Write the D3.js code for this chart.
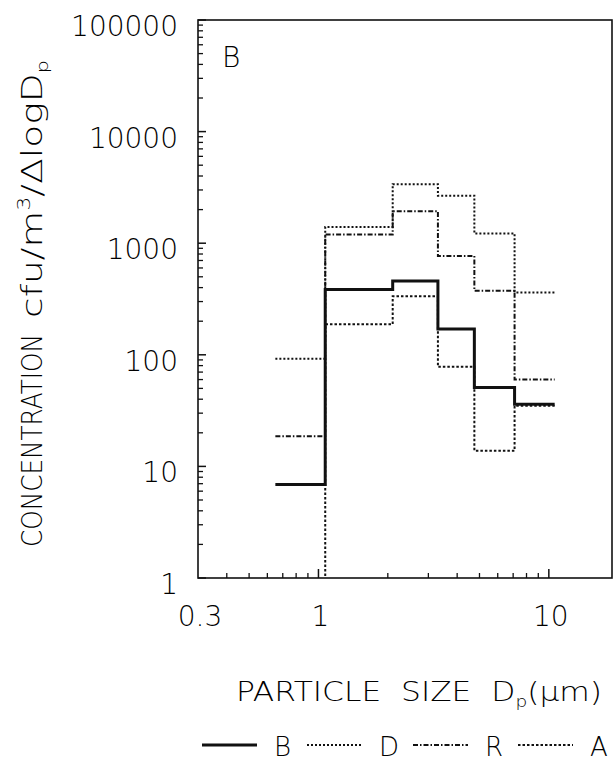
<!DOCTYPE html>
<html>
<head>
<meta charset="utf-8">
<script src="https://cdn.jsdelivr.net/npm/d3@7"></script>
<style>
  body { margin: 0; background: #fff; }
  text, tspan { font-family: "DejaVu Sans", sans-serif; font-weight: 200; fill: #000; white-space: pre; }
</style>
</head>
<body>
<div id="vis-container"></div>
<script>
// --- Data ---
const binEdges = [0.65, 1.07, 2.1, 3.3, 4.75, 7.1, 10.6];   // stage cut sizes, um
const seriesNames = ["B", "D", "R", "A"];
const valuesB = [6.9, 384, 459, 170, 51, 36];
const valuesD = [92, 1397, 3380, 2667, 1222, 362];
const valuesR = [18.6, 1195, 1936, 768, 375, 60];
const valuesA = [0.5, 188, 335, 78, 13.8, 35];             // first stage below 1
const yTicks = [1, 10, 100, 1000, 10000, 100000];
const xTickLabels = [0.3, 1, 10];

const styles = {
    B: { width: 3, dash: null },
    D: { width: 2, dash: "2,2" },
    R: { width: 2, dash: "5,2,1.5,2" },
    A: { width: 2, dash: "2.5,2" }
};

// --- Setup ---
const W = 614, H = 770;
const svg = d3.select("#vis-container").append("svg")
    .attr("width", W).attr("height", H);

const x = d3.scaleLog().domain([0.3, 18.8]).range([198, 612]);
const y = d3.scaleLog().domain([1, 100000]).range([578, 20]);

svg.append("clipPath").attr("id", "plot-clip")
  .append("rect")
    .attr("x", x.range()[0]).attr("y", y.range()[1])
    .attr("width", x.range()[1] - x.range()[0])
    .attr("height", y.range()[0] - y.range()[1]);

// frame
svg.append("rect")
    .attr("x", x.range()[0]).attr("y", y.range()[1])
    .attr("width", x.range()[1] - x.range()[0])
    .attr("height", y.range()[0] - y.range()[1])
    .attr("fill", "none").attr("stroke", "#111").attr("stroke-width", 1.6);

// y ticks: inward, minor at 2..9 per decade
const yMinor = [];
for (let p = 0; p < 5; p++) for (let k = 2; k <= 9; k++) yMinor.push(k * Math.pow(10, p));

const yAxis = svg.append("g").attr("class", "y-axis");
yAxis.selectAll(".minor").data(yMinor).enter().append("line")
    .attr("x1", x.range()[0]).attr("x2", x.range()[0] + 5)
    .attr("y1", d => y(d)).attr("y2", d => y(d))
    .attr("stroke", "#111").attr("stroke-width", 1.3);
yAxis.selectAll(".major").data(yTicks).enter().append("line")
    .attr("x1", x.range()[0]).attr("x2", x.range()[0] + 8)
    .attr("y1", d => y(d)).attr("y2", d => y(d))
    .attr("stroke", "#111").attr("stroke-width", 1.5);
yAxis.selectAll("text").data(yTicks).enter().append("text")
    .attr("x", x.range()[0] - 20)
    .attr("y", d => y(d) + 16)
    .attr("text-anchor", "end")
    .attr("font-size", 28)
    .text(d => d);

// x ticks: inward, minor at 0.4..0.9 and 2..9
const xMinor = [0.4, 0.5, 0.6, 0.7, 0.8, 0.9, 2, 3, 4, 5, 6, 7, 8, 9];
const xAxis = svg.append("g").attr("class", "x-axis");
xAxis.selectAll(".minor").data(xMinor).enter().append("line")
    .attr("x1", d => x(d)).attr("x2", d => x(d))
    .attr("y1", y.range()[0]).attr("y2", y.range()[0] - 5)
    .attr("stroke", "#111").attr("stroke-width", 1.3);
xAxis.selectAll(".major").data([1, 10]).enter().append("line")
    .attr("x1", d => x(d)).attr("x2", d => x(d))
    .attr("y1", y.range()[0]).attr("y2", y.range()[0] - 9)
    .attr("stroke", "#111").attr("stroke-width", 1.5);
xAxis.selectAll("text").data(xTickLabels).enter().append("text")
    .attr("x", d => x(d) + 2)
    .attr("y", 626)
    .attr("text-anchor", "middle")
    .attr("font-size", 28)
    .text(d => d);

// --- Step lines ---
const allSeries = [
    { name: "B", values: valuesB },
    { name: "D", values: valuesD },
    { name: "R", values: valuesR },
    { name: "A", values: valuesA }
];

const line = d3.line().x(d => x(d.x)).y(d => y(d.y));

const steps = vals => vals.flatMap((v, i) => [
    { x: binEdges[i], y: v },
    { x: binEdges[i + 1], y: v }
]);

svg.append("g").attr("clip-path", "url(#plot-clip)")
    .selectAll("path")
    .data(allSeries.slice().reverse())
    .enter().append("path")
        .attr("d", d => line(steps(d.values)))
        .attr("fill", "none")
        .attr("stroke", "#111")
        .attr("stroke-width", d => styles[d.name].width)
        .attr("stroke-dasharray", d => styles[d.name].dash);

// panel letter
svg.append("text")
    .attr("x", 222).attr("y", 67)
    .attr("font-size", 28)
    .text("B");

// --- Axis titles ---
svg.append("text")
    .attr("transform", "translate(42, 547) rotate(-90)")
    .attr("font-size", 28)
    .attr("textLength", 213)
    .attr("lengthAdjust", "spacingAndGlyphs")
    .text("CONCENTRATION");

const yUnit = svg.append("text")
    .attr("transform", "translate(42, 318) rotate(-90)")
    .attr("font-size", 29)
    .attr("textLength", 258)
    .attr("lengthAdjust", "spacingAndGlyphs");
yUnit.append("tspan").text("cfu/m");
yUnit.append("tspan").attr("font-size", 17).attr("dy", -12).text("3");
yUnit.append("tspan").attr("dy", 12).text("/\u0394logD");
yUnit.append("tspan").attr("font-size", 16).attr("dy", 6).text("p");

const xTitle = svg.append("text")
    .attr("x", 236).attr("y", 701)
    .attr("font-size", 27)
    .attr("textLength", 366)
    .attr("lengthAdjust", "spacingAndGlyphs");
xTitle.append("tspan").text("PARTICLE  SIZE  D");
xTitle.append("tspan").attr("font-size", 16).attr("dy", 6).text("p");
xTitle.append("tspan").attr("dy", -6).text("(\u03bcm)");

// --- Legend ---
const legendX = [202, 307, 413, 518];
const legend = svg.append("g").attr("class", "legend");
seriesNames.forEach((name, i) => {
    const s = styles[name];
    legend.append("line")
        .attr("x1", legendX[i]).attr("x2", legendX[i] + 55)
        .attr("y1", 745).attr("y2", 745)
        .attr("stroke", "#111")
        .attr("stroke-width", s.width)
        .attr("stroke-dasharray", s.dash);
    legend.append("text")
        .attr("x", legendX[i] + 72).attr("y", 756)
        .attr("font-size", 26)
        .text(name);
});
</script>
</body>
</html>
